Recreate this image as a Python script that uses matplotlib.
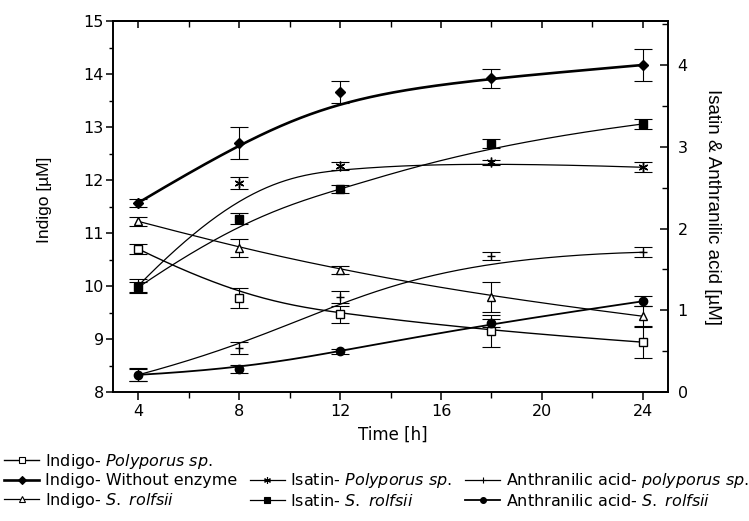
import numpy as np
import matplotlib
matplotlib.use('Agg')
import matplotlib.pyplot as plt
from matplotlib.lines import Line2D
from matplotlib.ticker import MultipleLocator

# ---------------- data ----------------
time_h = [4, 8, 12, 18, 24]

indigo_polyporus = [10.70, 9.77, 9.47, 9.15, 8.94]
indigo_polyporus_err = [0.10, 0.19, 0.16, 0.30, 0.30]
indigo_no_enzyme = [11.57, 12.70, 13.66, 13.92, 14.17]
indigo_no_enzyme_err = [0.07, 0.30, 0.20, 0.18, 0.30]
indigo_rolfsii = [11.22, 10.72, 10.30, 9.79, 9.43]
indigo_rolfsii_err = [0.08, 0.17, 0.07, 0.28, 0.20]

isatin_polyporus = [1.30, 2.56, 2.77, 2.81, 2.75]
isatin_polyporus_err = [0.08, 0.07, 0.05, 0.03, 0.06]
isatin_rolfsii = [1.28, 2.12, 2.48, 3.04, 3.28]
isatin_rolfsii_err = [0.07, 0.07, 0.05, 0.06, 0.06]
anthr_polyporus = [0.21, 0.54, 1.16, 1.66, 1.71]
anthr_polyporus_err = [0.07, 0.07, 0.07, 0.05, 0.06]
anthr_rolfsii = [0.21, 0.28, 0.50, 0.84, 1.11]
anthr_rolfsii_err = [0.08, 0.05, 0.03, 0.05, 0.06]

x_ticks = [4, 8, 12, 16, 20, 24]

labels = [
    r'Indigo- $\mathit{Polyporus}$ $\mathit{sp.}$',
    'Indigo- Without enzyme',
    r'Indigo- $\mathit{S.}$ $\mathit{rolfsii}$',
    r'Isatin- $\mathit{Polyporus}$ $\mathit{sp.}$',
    r'Isatin- $\mathit{S.}$ $\mathit{rolfsii}$',
    r'Anthranilic acid- $\mathit{polyporus}$ $\mathit{sp.}$',
    r'Anthranilic acid- $\mathit{S.}$ $\mathit{rolfsii}$',
]


# ---------------- helpers ----------------
def _basis(i, p, u, t):
    if p == 0:
        res = ((t[i] <= u) & (u < t[i + 1])).astype(float)
        if t[i] < t[i + 1] and t[i + 1] == t[-1]:
            res[u == t[-1]] = 1.0
        return res
    out = np.zeros_like(u)
    if t[i + p] != t[i]:
        out += (u - t[i]) / (t[i + p] - t[i]) * _basis(i, p - 1, u, t)
    if t[i + p + 1] != t[i + 1]:
        out += (t[i + p + 1] - u) / (t[i + p + 1] - t[i + 1]) * _basis(i + 1, p - 1, u, t)
    return out


def bspline(xs, ys, k=3, n=300):
    """Clamped B-spline using data points as control points (Origin style)."""
    xs = np.asarray(xs, float)
    ys = np.asarray(ys, float)
    m = len(xs)
    knots = np.concatenate([np.zeros(k), np.linspace(0, 1, m - k + 1), np.ones(k)])
    u = np.linspace(0, 1, n)
    bx = np.zeros(n)
    by = np.zeros(n)
    for i in range(m):
        b = _basis(i, k, u, knots)
        bx += b * xs[i]
        by += b * ys[i]
    return bx, by


# ---------------- figure ----------------
W, H = 749, 521
fig = plt.figure(figsize=(W / 100, H / 100), dpi=100)
plt.rcParams['font.family'] = ['DejaVu Sans']

L, R, T, B = 113, 668, 21, 392
ax = fig.add_axes([L / W, 1 - B / H, (R - L) / W, (B - T) / H])
ax2 = ax.twinx()

ax.set_xlim(3, 25)
ax.set_ylim(8, 15)
ax2.set_ylim(0, 4.54)

series_left = [
    (indigo_polyporus, indigo_polyporus_err, 's', 'white', 1.0, 5.5),
    (indigo_no_enzyme, indigo_no_enzyme_err, 'D', 'black', 1.9, 5.5),
    (indigo_rolfsii, indigo_rolfsii_err, '^', 'white', 0.9, 6),
]
series_right = [
    (isatin_polyporus, isatin_polyporus_err, (6, 2, 0), 'black', 0.9, 7),
    (isatin_rolfsii, isatin_rolfsii_err, 's', 'black', 0.9, 5.5),
    (anthr_polyporus, anthr_polyporus_err, '+', 'black', 0.9, 6),
    (anthr_rolfsii, anthr_rolfsii_err, 'o', 'black', 1.3, 6),
]

handles = []
for axis, group in ((ax, series_left), (ax2, series_right)):
    for vals, err, mk, fc, lw, ms in group:
        cx, cy = bspline(time_h, vals)
        axis.plot(cx, cy, color='black', lw=lw, zorder=2)
        axis.errorbar(time_h, vals, yerr=err, fmt='none', ecolor='black',
                      elinewidth=0.8, capsize=6.5, capthick=0.8, zorder=3)
        axis.plot(time_h, vals, linestyle='none', marker=mk, ms=ms,
                  mfc=fc, mec='black', mew=1.0, zorder=4)
        handles.append(Line2D([], [], color='black', lw=lw, marker=mk,
                              ms=ms * 0.7, mfc=fc, mec='black', mew=0.8))

# ticks
ax.xaxis.set_minor_locator(MultipleLocator(2))
ax.set_xticks(x_ticks)
ax.yaxis.set_major_locator(MultipleLocator(1))
ax.yaxis.set_minor_locator(MultipleLocator(0.5))
ax2.yaxis.set_major_locator(MultipleLocator(1))
ax2.yaxis.set_minor_locator(MultipleLocator(0.5))

ax.tick_params(axis='x', which='major', direction='out', length=6, width=1.1,
               labelsize=11.5, pad=2.5, top=False)
ax.tick_params(axis='x', which='minor', direction='out', length=4, width=1.0, top=False)
ax.tick_params(axis='y', which='major', direction='out', length=5, width=1.1,
               labelsize=11.5, pad=1.5, right=False)
ax.tick_params(axis='y', which='minor', direction='out', length=3, width=1.0, right=False)
ax2.tick_params(axis='y', which='major', direction='in', length=6, width=1.1,
                labelsize=11.5, pad=7)
ax2.tick_params(axis='y', which='minor', direction='in', length=4, width=1.0)

secx = ax.secondary_xaxis('top')
secx.xaxis.set_minor_locator(MultipleLocator(2))
secx.set_xticks(x_ticks)
secx.tick_params(axis='x', which='major', direction='in', length=5, width=1.1, labeltop=False)
secx.tick_params(axis='x', which='minor', direction='in', length=4, width=1.0)

for a in (ax, ax2):
    for s in a.spines.values():
        s.set_linewidth(1.2)
secx.spines['top'].set_linewidth(1.2)

# axis labels
fig.text(45 / W, 1 - 200 / H, 'Indigo [µM]', rotation=90, ha='center', va='center',
         family=['Liberation Sans', 'DejaVu Sans'], fontsize=12.5)
fig.text(713 / W, 1 - 207 / H, 'Isatin & Anthranilic acid [µM]', rotation=270,
         ha='center', va='center', family=['Liberation Sans', 'DejaVu Sans'], fontsize=13.5)
fig.text(393 / W, 1 - 435 / H, 'Time [h]', ha='center', va='center', fontsize=12)

# legend (3 columns, column-major order)
blank = Line2D([], [], linestyle='none', marker='none')
leg_handles = [handles[0], handles[1], handles[2], blank,
               handles[3], handles[4], blank, handles[5], handles[6]]
leg_labels = [labels[0], labels[1], labels[2], ' ',
              labels[3], labels[4], ' ', labels[5], labels[6]]
fig.legend(leg_handles, leg_labels, loc='upper left',
           bbox_to_anchor=(4 / W, 1 - 452 / H), ncol=3, frameon=False,
           fontsize=11.5, handlelength=2.2, handletextpad=0.35,
           columnspacing=0.8, labelspacing=0.15, borderpad=0, borderaxespad=0)

fig.savefig('out.png', dpi=100)
